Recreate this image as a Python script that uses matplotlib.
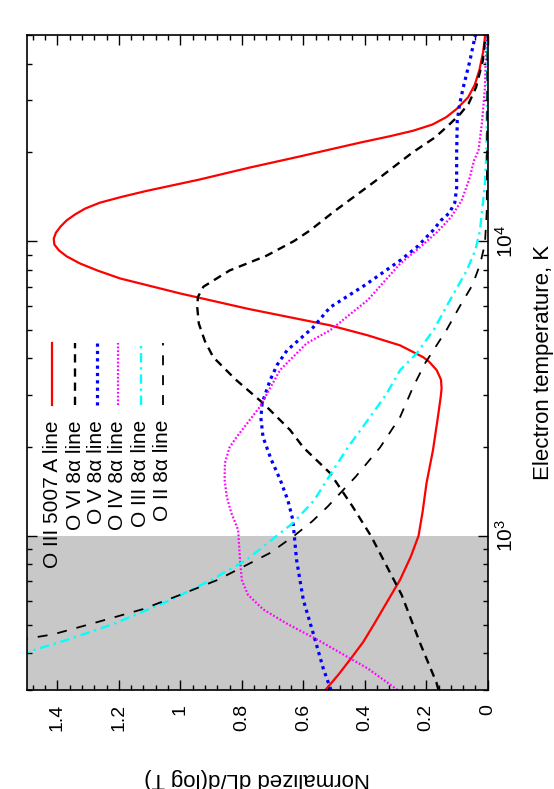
import numpy as np
import matplotlib
matplotlib.use("Agg")
import matplotlib.pyplot as plt
from matplotlib.ticker import MultipleLocator, LogLocator, NullFormatter

plt.rcParams['font.family'] = ['Liberation Sans', 'DejaVu Sans']
plt.rcParams['mathtext.fontset'] = 'custom'
plt.rcParams['mathtext.rm'] = 'Liberation Sans'

# log10(T [K]) and normalized dL/d(log T)
logt_o3_5007 = [2.477, 2.53, 2.584, 2.64, 2.70, 2.78, 2.851, 2.93, 3.0, 3.08, 3.179, 3.291,
                3.403, 3.47, 3.50, 3.53, 3.562, 3.59, 3.606, 3.629, 3.646, 3.68, 3.714,
                3.77, 3.822, 3.873, 3.90, 3.924, 3.948, 3.968, 3.988, 4.008, 4.028, 4.049,
                4.07, 4.09, 4.11, 4.13, 4.15, 4.17, 4.208, 4.249, 4.286, 4.316, 4.335,
                4.355, 4.374, 4.395, 4.42, 4.448, 4.487, 4.53, 4.58, 4.64, 4.699]
val_o3_5007 = [0.528, 0.485, 0.445, 0.405, 0.37, 0.325, 0.285, 0.25, 0.225, 0.212, 0.199,
               0.178, 0.162, 0.153, 0.150, 0.152, 0.166, 0.19, 0.210, 0.253, 0.285, 0.39,
               0.513, 0.78, 1.00, 1.196, 1.27, 1.327, 1.37, 1.395, 1.41, 1.412, 1.405,
               1.39, 1.37, 1.343, 1.31, 1.262, 1.19, 1.11, 0.94, 0.775, 0.615, 0.49, 0.41,
               0.32, 0.243, 0.18, 0.135, 0.101, 0.064, 0.042, 0.027, 0.015, 0.008]

logt_o6 = [2.477, 2.503, 2.631, 2.8, 2.9, 3.0, 3.1, 3.213, 3.30, 3.359, 3.45, 3.53, 3.606,
           3.66, 3.72, 3.775, 3.81, 3.845, 3.90, 3.95, 4.0, 4.036, 4.1, 4.2, 4.3, 4.351,
           4.39, 4.43, 4.466, 4.521, 4.611, 4.699]
val_o6 = [0.16, 0.167, 0.218, 0.28, 0.33, 0.38, 0.44, 0.513, 0.60, 0.643, 0.731, 0.82, 0.893,
          0.92, 0.94, 0.945, 0.943, 0.925, 0.84, 0.72, 0.63, 0.578, 0.50, 0.37, 0.245, 0.172,
          0.13, 0.09, 0.062, 0.038, 0.016, 0.006]

logt_o5 = [2.477, 2.55, 2.663, 2.783, 2.919, 3.054, 3.12, 3.19, 3.26, 3.335, 3.40, 3.45,
           3.528, 3.58, 3.629, 3.707, 3.775, 3.85, 3.934, 3.98, 4.036, 4.07, 4.095, 4.13,
           4.181, 4.296, 4.408, 4.46, 4.519, 4.611, 4.699]
val_o5 = [0.51, 0.535, 0.566, 0.60, 0.622, 0.634, 0.65, 0.675, 0.705, 0.731, 0.738, 0.734,
          0.708, 0.685, 0.653, 0.568, 0.513, 0.40, 0.285, 0.23, 0.178, 0.152, 0.125, 0.107,
          0.101, 0.101, 0.099, 0.092, 0.080, 0.058, 0.04]

logt_o4 = [2.477, 2.55, 2.651, 2.70, 2.75, 2.80, 2.85, 2.919, 3.02, 3.08, 3.133, 3.19,
           3.247, 3.30, 3.335, 3.438, 3.562, 3.653, 3.697, 3.8, 3.923, 3.979, 4.03, 4.08,
           4.137, 4.216, 4.272, 4.306, 4.408, 4.519, 4.699]
val_o4 = [0.293, 0.39, 0.56, 0.65, 0.73, 0.78, 0.80, 0.806, 0.812, 0.835, 0.849, 0.856,
          0.855, 0.84, 0.817, 0.741, 0.676, 0.589, 0.513, 0.39, 0.285, 0.22, 0.165, 0.12,
          0.085, 0.058, 0.045, 0.03, 0.018, 0.009, 0.004]

logt_o3 = [2.58, 2.605, 2.65, 2.70, 2.783, 2.85, 2.919, 3.044, 3.12, 3.206, 3.30, 3.40,
           3.48, 3.562, 3.619, 3.70, 3.799, 3.90, 3.97, 4.036, 4.195, 4.3, 4.699]
val_o3 = [1.60, 1.5, 1.36, 1.22, 1.03, 0.90, 0.784, 0.633, 0.565, 0.513, 0.455, 0.385,
          0.33, 0.285, 0.231, 0.175, 0.123, 0.068, 0.04, 0.025, 0.009, 0.004, 0.001]

logt_o2 = [2.62, 2.651, 2.666, 2.706, 2.751, 2.80, 2.85, 2.942, 3.0, 3.05, 3.1, 3.2, 3.3,
           3.403, 3.504, 3.585, 3.70, 3.78, 3.85, 3.92, 3.99, 4.1, 4.699]
val_o2 = [1.62, 1.5, 1.413, 1.275, 1.123, 1.0, 0.88, 0.708, 0.63, 0.57, 0.52, 0.43, 0.35,
          0.285, 0.243, 0.204, 0.133, 0.09, 0.05, 0.025, 0.009, 0.003, 0.0005]

labels = ["O III 5007 A line", "O VI 8\u03b1 line", "O V 8\u03b1 line",
          "O IV 8\u03b1 line", "O III 8\u03b1 line", "O II 8\u03b1 line"]

val_ticks = [0, 0.2, 0.4, 0.6, 0.8, 1.0, 1.2, 1.4]
val_ticklabels = ["0", "0.2", "0.4", "0.6", "0.8", "1", "1.2", "1.4"]
t_ticks = [1e3, 1e4]
t_ticklabels = [r"$\mathregular{10^{3}}$", r"$\mathregular{10^{4}}$"]

series = [
    (logt_o3_5007, val_o3_5007, dict(color="#ff0000", lw=1.6, ls="-")),
    (logt_o6, val_o6, dict(color="black", lw=1.7, ls=(0, (3.5, 2.5)))),
    (logt_o5, val_o5, dict(color="#0000ff", lw=2.3, ls=(0, (1, 1.3)))),
    (logt_o4, val_o4, dict(color="#ff00ff", lw=1.6, ls=(0, (0.8, 0.9)))),
    (logt_o3, val_o3, dict(color="#00ffff", lw=1.7, ls=(0, (4, 2, 1, 2)))),
    (logt_o2, val_o2, dict(color="black", lw=1.3, ls=(0, (5.5, 5.5)))),
]

fig = plt.figure(figsize=(5.54, 7.89), dpi=100)
ax = fig.add_axes([0.0482, 0.1255, 0.8321, 0.8302])

ax.axhspan(300, 1000, color="#c8c8c8", lw=0, zorder=0)

for logt, val, st in series:
    ax.plot(val, 10 ** np.array(logt), zorder=2, solid_joinstyle="round", **st)

ax.set_yscale("log")
ax.set_xlim(1.5, 0)
ax.set_ylim(300, 5e4)

ax.set_xticks(val_ticks)
ax.set_xticklabels(val_ticklabels, rotation=90)
ax.xaxis.set_minor_locator(MultipleLocator(0.04))
ax.set_yticks(t_ticks)
ax.set_yticklabels(t_ticklabels, rotation=90, va="center")
ax.yaxis.set_minor_locator(LogLocator(base=10, subs=range(2, 10)))
ax.yaxis.set_minor_formatter(NullFormatter())

ax.tick_params(which="both", direction="in", top=True, bottom=True, left=True, right=True,
               labelleft=False, labelright=True, width=1.0)
ax.tick_params(which="major", length=7)
ax.tick_params(which="minor", length=3.5)
ax.tick_params(axis="x", labelsize=14, pad=10)
ax.tick_params(axis="y", labelsize=15, pad=5)
for s in ax.spines.values():
    s.set_linewidth(1.2)
    s.set_zorder(3)

# legend drawn by hand, rotated like the rest of the chart
col_x = [52.3, 75, 96.7, 118, 140.7, 163]
for (logt, val, st), lab, px in zip(series, labels, col_x):
    fx = (px - 26.7) / 461.0
    ax.plot([fx, fx], [0.435, 0.530], transform=ax.transAxes, clip_on=False, zorder=4, **st)
    ax.text(fx, 0.412, lab, transform=ax.transAxes, rotation=90, ha="center", va="top",
            fontsize=15)

fig.text(543 / 554, 1 - 362 / 789, "Electron temperature, K", rotation=90,
         ha="center", va="center", fontsize=16)
fig.text(257 / 554, 1 - 778 / 789, "Normalized dL/d(log T)", rotation=180,
         ha="center", va="center", fontsize=16)

fig.savefig("out.png", dpi=100)
